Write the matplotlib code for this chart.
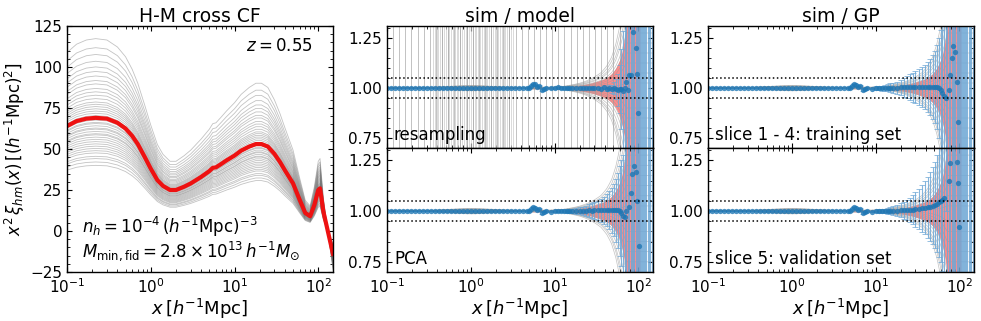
import numpy as np
import matplotlib.pyplot as plt
from matplotlib.ticker import AutoMinorLocator, NullFormatter

nan = np.nan

# ---- left panel: x^2 xi_hm(x), fiducial (red) + simulation cosmologies (gray)
r_fid = [0.1, 0.13, 0.17, 0.22, 0.3, 0.4, 0.5, 0.6, 0.7, 0.85, 1.0, 1.2, 1.4, 1.7,
         2.0, 2.5, 3.0, 4.0, 5.0, 5.5, 6.0, 7.0, 8.0, 10, 12, 15, 18, 21, 25, 30,
         35, 40, 50, 60, 70, 80, 90, 100, 105, 115, 130, 150]
xi_fid = [64, 67, 68.5, 69, 68.5, 66, 62.5, 58, 53, 45, 38, 31, 27.5, 25,
          25, 27, 29, 33, 36.5, 38.5, 38.8, 41, 43, 46, 49, 51.5, 53, 53, 51.5, 47,
          42, 37, 29, 19, 11, 9, 16, 25, 26, 12, 0, -14]
# amplitude of each simulation curve relative to the fiducial one
sim_amp = [0.58, 0.61, 0.64, 0.66, 0.69, 0.71, 0.73, 0.75, 0.77, 0.79, 0.81, 0.83,
           0.85, 0.86, 0.88, 0.9, 0.91, 0.93, 0.95, 0.96, 0.98, 1.0, 1.02, 1.04,
           1.06, 1.08, 1.1, 1.12, 1.14, 1.17, 1.2, 1.23, 1.26, 1.3, 1.33, 1.37,
           1.41, 1.45, 1.5, 1.56, 1.62, 1.7]

# ---- ratio panels: bins
x_small = np.logspace(-1, np.log10(4.7), 36)
x_large = [5.0, 5.3, 5.6, 5.9, 6.2, 6.6, 7.0, 7.5, 8.0, 9.0,
           10, 11, 12, 13, 14, 15, 16,
           18, 20, 22, 24, 26, 28, 30,
           33, 36, 39, 42, 45, 48, 51, 54, 57, 60,
           63, 66, 69, 72, 75, 78, 81, 84, 87, 90, 93, 96, 99, 102, 105, 108, 111,
           114, 117, 120, 125, 130, 135, 140, 145, 150]

# points beyond ~100 lie outside the plotted range (only their error bars show)
far = [1.45, 0.55, 1.5, 0.6, 1.4, 0.5, 1.55, 0.6, 1.45, 0.55, 1.5, 0.6, 1.45, 0.55]

ratio_small = [1.0] * 36
ratio_resamp = [1.000, 1.012, 1.022, 1.018, 1.006, 1.012, 0.990, 0.996, 1.002, 0.998,
                1.000, 1.003, 0.998, 1.001, 0.999, 1.002, 1.000,
                0.998, 1.001, 1.000, 0.999, 1.002, 0.998, 1.000,
                1.001, 0.997, 1.003, 0.996, 1.002, 0.995, 1.000, 0.993, 0.990, 0.996,
                0.995, 0.985, 1.000, 1.030, 0.990, 1.065, 1.065, 1.45, 1.280, 0.55, 1.200,
                1.070, 0.875] + far[:13]
ratio_pca = [1.000, 1.012, 1.022, 1.016, 1.005, 1.012, 0.990, 0.996, 1.000, 0.997,
             1.000, 1.002, 0.999, 1.001, 1.000, 1.002, 1.001,
             1.000, 1.002, 1.001, 1.002, 1.003, 1.002, 1.003,
             1.003, 1.004, 1.004, 1.004, 1.005, 1.004, 1.005, 1.004, 1.003, 1.000,
             0.990, 0.975, 0.970, 1.000, 1.45, 1.020, 1.090, 1.180, 0.55, 1.220, 1.190,
             1.050, 1.5, 0.830] + far[:12]
ratio_gp_train = [1.000, 1.012, 1.022, 1.016, 1.005, 1.012, 0.990, 0.996, 1.000, 0.997,
                  1.000, 1.002, 0.999, 1.001, 1.001, 1.002, 1.002,
                  1.002, 1.003, 1.003, 1.004, 1.004, 1.004, 1.005,
                  1.005, 1.005, 1.006, 1.006, 1.006, 1.007, 1.006, 1.005, 1.000, 0.990,
                  0.975, 0.960, 0.950, 0.55, 0.990, 1.065, 1.150, 1.210, 1.45, 1.180,
                  1.030, 0.830] + far[:14]
ratio_gp_val = [1.000, 1.012, 1.022, 1.016, 1.005, 1.012, 0.990, 0.996, 1.000, 0.997,
                1.000, 1.000, 0.999, 1.000, 1.001, 1.001, 1.002,
                1.002, 1.003, 1.004, 1.005, 1.006, 1.007, 1.008,
                1.010, 1.013, 1.016, 1.019, 1.022, 1.026, 1.030, 1.036, 1.042, 1.048,
                1.056, 1.064, 1.45, 0.55, 1.150, 1.235, 1.5, 0.6, 1.45, 0.55, 1.240, 1.140,
                0.920] + far[:13]

# model scatter (red band, half width); not drawn beyond ~105
band_small = [0.002] * 36
band_large = [0.004] * 10 + [0.005, 0.006, 0.006, 0.007, 0.008, 0.009, 0.010] \
    + [0.012, 0.014, 0.017, 0.020, 0.023, 0.026, 0.030] \
    + [0.035, 0.040, 0.046, 0.053, 0.062, 0.072, 0.085, 0.100, 0.120, 0.140] \
    + [0.170, 0.210, 0.260, 0.320, 0.400] + [0.5] * 10 + [nan] * 11

# blue error bars
err_small = [0.002] * 36
err_resamp = [0.003] * 24 + [0.005, 0.006, 0.008, 0.010, 0.015, 0.020, 0.030, 0.050, 0.080, 0.120] \
    + [0.2, 0.3, 0.4] + [0.9] * 23
err_pca = [0.003] * 10 + [0.004, 0.005, 0.006, 0.007, 0.008, 0.010, 0.011] \
    + [0.014, 0.017, 0.021, 0.025, 0.030, 0.035, 0.040] \
    + [0.048, 0.057, 0.067, 0.080, 0.095, 0.110, 0.130, 0.155, 0.185, 0.220] \
    + [0.26, 0.30, 0.35, 0.40] + [0.9] * 22
err_gp_train = [0.004] * 10 + [0.008, 0.010, 0.012, 0.015, 0.018, 0.021, 0.025] \
    + [0.030, 0.038, 0.046, 0.055, 0.064, 0.072, 0.080] \
    + [0.090, 0.100, 0.110, 0.125, 0.140, 0.160, 0.180, 0.210, 0.250, 0.300] \
    + [0.35, 0.40, 0.45] + [0.9] * 23
err_gp_val = [0.004] * 10 + [0.006, 0.008, 0.010, 0.012, 0.015, 0.018, 0.021] \
    + [0.027, 0.034, 0.042, 0.050, 0.060, 0.070, 0.085] \
    + [0.100, 0.115, 0.130, 0.150, 0.170, 0.190, 0.210, 0.240, 0.270, 0.300] \
    + [0.35, 0.40, 0.45] + [0.9] * 23

# spread of individual simulation ratios (gray lines)
spread_small = [0.002] * 12 + [0.004, 0.005, 0.006, 0.007, 0.008, 0.009, 0.010, 0.011,
                               0.012, 0.012, 0.012, 0.011, 0.010, 0.009, 0.008, 0.007,
                               0.006, 0.005, 0.004, 0.004, 0.003, 0.003, 0.003, 0.003]
spread_large = [0.004] * 10 + [0.005, 0.006, 0.007, 0.008, 0.010, 0.012, 0.014] \
    + [0.018, 0.022, 0.027, 0.032, 0.038, 0.044, 0.050] \
    + [0.060, 0.070, 0.085, 0.100, 0.120, 0.140, 0.170, 0.200, 0.240, 0.280] \
    + [0.33, 0.38, 0.44] + [0.5] * 23
sim_offset = [-1.15, -1.0, -0.9, -0.75, -0.6, -0.5, -0.4, -0.3, -0.2, -0.1, 0.05,
              0.15, 0.25, 0.35, 0.45, 0.55, 0.7, 0.8, 0.95, 1.1]

# resampling realisations drawn as vertical gray lines
vline_sparse = np.logspace(-1, 1.85, 40)
vline_dense = np.logspace(-0.45, 0.5, 45)

x_all = np.concatenate([x_small, x_large])
band = np.array(band_small + band_large)
spread = np.array(spread_small + spread_large)

W, H = 981, 321
fig = plt.figure(figsize=(W / 100, H / 100), dpi=100)
plt.rcParams['mathtext.fontset'] = 'dejavusans'
plt.rcParams['axes.linewidth'] = 1.0

fs_tick = 11


def style(ax, ylim):
    ax.set_xscale('log')
    ax.set_xlim(0.1, 150)
    ax.set_ylim(*ylim)
    ax.yaxis.set_minor_locator(AutoMinorLocator(5))
    ax.tick_params(which='both', direction='in', top=True, right=True, labelsize=fs_tick)


# left panel
axl = fig.add_axes([67 / W, 1 - 272 / H, 266 / W, 246 / H])
xi_fid = np.array(xi_fid)
for a in sim_amp:
    axl.plot(r_fid, a * xi_fid, color='#707070', lw=0.6, alpha=0.42)
axl.plot(r_fid, xi_fid, color='#ee1111', lw=3)
style(axl, (-25, 125))
axl.set_yticks([-25, 0, 25, 50, 75, 100, 125])
axl.set_title('H-M cross CF', fontsize=13.5, pad=3)
axl.set_xlabel(r'$x\,[h^{-1}{\rm Mpc}]$', fontsize=13, labelpad=1)
axl.set_ylabel(r'$x^2\,\xi_{hm}(x)\,[(h^{-1}{\rm Mpc})^2]$', fontsize=12, labelpad=2)
axl.text(0.925, 0.9, r'$z = 0.55$', transform=axl.transAxes, ha='right', fontsize=12)
axl.text(0.056, 0.16, r'$n_h = 10^{-4}\,(h^{-1}{\rm Mpc})^{-3}$', transform=axl.transAxes,
         fontsize=12)
axl.text(0.056, 0.06, r'$M_{\rm min,fid} = 2.8\times10^{13}\,h^{-1}M_{\odot}$',
         transform=axl.transAxes, fontsize=12)

panels = [
    (387, 26, 148, ratio_resamp, err_resamp, 'resampling', 'sim / model', True),
    (387, 148, 272, ratio_pca, err_pca, 'PCA', None, False),
    (708, 26, 148, ratio_gp_train, err_gp_train, 'slice 1 - 4: training set', 'sim / GP', False),
    (708, 148, 272, ratio_gp_val, err_gp_val, 'slice 5: validation set', None, False),
]

for left, top, bot, ratio, err, label, title, resamp in panels:
    ax = fig.add_axes([left / W, 1 - bot / H, 266 / W, (bot - top) / H])
    y = np.array(ratio_small + ratio)
    e = np.array(err_small + err)
    if resamp:
        for xv in vline_dense:
            ax.axvline(xv, color='#cccccc', lw=0.5)
        for xv in vline_sparse:
            ax.axvline(xv, color='#999999', lw=0.6, alpha=0.7)
    for g in sim_offset:
        ax.plot(x_all, 1 + g * spread, color='#999999', lw=0.5, alpha=0.6)
    ax.errorbar(x_all, y, yerr=e, fmt='none', ecolor='#6fa8d6', elinewidth=0.8,
                capsize=2, capthick=0.6, alpha=0.85)
    ax.fill_between(x_all, 1 - band, 1 + band, color='red', alpha=0.45, lw=0)
    ax.plot(x_all, y, 'o', ms=3.8, color='#1f77b4', alpha=0.8, mew=0)
    ax.axhline(1.05, color='k', ls=':', lw=1.1)
    ax.axhline(0.95, color='k', ls=':', lw=1.1)
    style(ax, (0.7, 1.31))
    ax.set_yticks([0.75, 1.0, 1.25])
    ax.set_yticklabels(['0.75', '1.00', '1.25'])
    ax.text(0.026, 0.065, label, transform=ax.transAxes, fontsize=12)
    if title:
        ax.set_title(title, fontsize=13.5, pad=3)
        ax.xaxis.set_major_formatter(NullFormatter())
        ax.xaxis.set_minor_formatter(NullFormatter())
    else:
        ax.set_xlabel(r'$x\,[h^{-1}{\rm Mpc}]$', fontsize=13, labelpad=1)

fig.savefig('out.png', dpi=100)
